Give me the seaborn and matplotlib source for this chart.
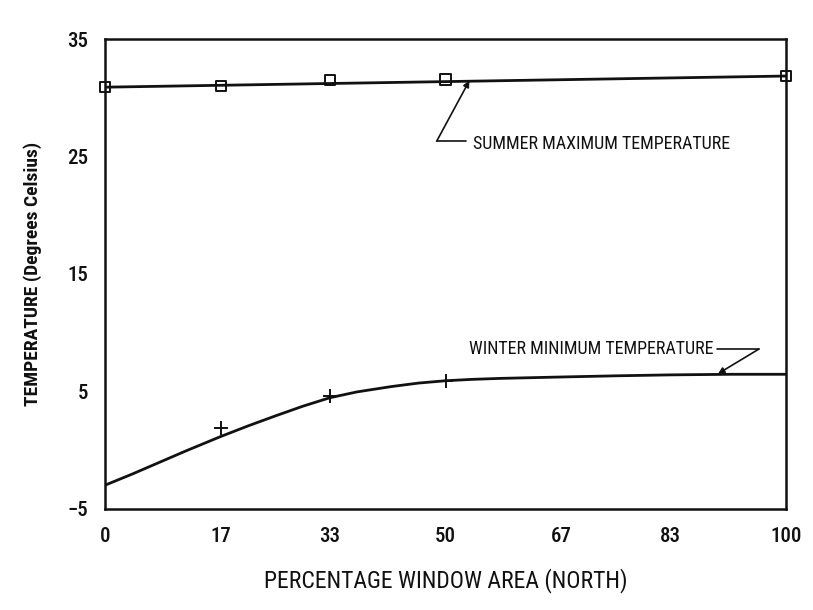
import matplotlib
matplotlib.use("Agg")
import matplotlib.pyplot as plt
import matplotlib.font_manager as fm
import seaborn as sns
import pandas as pd

# ---- data ----
x_ticks = [0, 17, 33, 50, 67, 83, 100]
y_major = [-5, 5, 15, 25, 35]
y_minor = [0, 10, 20, 30]

summer_x = [0, 17, 33, 50, 100]
summer_y = [30.9, 31.0, 31.5, 31.55, 31.85]
summer_fit_x = [0, 100]
summer_fit_y = [30.9, 31.85]

winter_x = [17, 33, 50]
winter_y = [1.9, 4.6, 5.9]
winter_fit_x = [0, 4, 8, 12, 17, 21, 25, 29, 33, 37, 42, 46, 50, 54, 58, 67, 75, 83, 92, 100]
winter_fit_y = [-3.0, -2.05, -1.05, -0.05, 1.15, 2.05, 2.9, 3.72, 4.45, 4.95, 5.4, 5.7, 5.9, 6.02,
                6.1, 6.22, 6.32, 6.4, 6.45, 6.45]

summer_label = "SUMMER MAXIMUM TEMPERATURE"
winter_label = "WINTER MINIMUM TEMPERATURE"
x_label = "PERCENTAGE WINDOW AREA (NORTH)"
y_label = "TEMPERATURE (Degrees Celsius)"

sns.set_theme(style="white")
names = {f.name for f in fm.fontManager.ttflist}
fam = "DejaVu Sans"
for cand in ["Roboto Condensed", "DejaVu Sans Condensed", "Liberation Sans Narrow"]:
    if cand in names:
        fam = cand
        break
plt.rcParams["font.family"] = [fam]

fig = plt.figure(figsize=(8.13, 6.10), dpi=100)
ax = fig.add_axes([0.129, 0.166, 0.838, 0.770])

sfit = pd.DataFrame({"x": summer_fit_x, "y": summer_fit_y})
wfit = pd.DataFrame({"x": winter_fit_x, "y": winter_fit_y})
spts = pd.DataFrame({"x": summer_x, "y": summer_y})
wpts = pd.DataFrame({"x": winter_x, "y": winter_y})

sns.lineplot(data=sfit, x="x", y="y", ax=ax, color="#111111", lw=2.0)
sns.lineplot(data=wfit, x="x", y="y", ax=ax, color="#111111", lw=2.0)
sns.scatterplot(data=spts, x="x", y="y", ax=ax, marker="s", s=55,
                facecolor="none", edgecolor="#111111", linewidth=1.4, zorder=5, clip_on=False)
sns.scatterplot(data=wpts, x="x", y="y", ax=ax, marker="+", s=110,
                color="#111111", linewidth=1.4, zorder=5)

ax.set_xlim(0, 100)
ax.set_ylim(-5, 35)
ax.set_xticks(x_ticks)
ax.set_xticklabels([str(v) for v in x_ticks])
ax.set_yticks(y_major)
ax.set_yticklabels([f"\u2212{abs(v)}" if v < 0 else str(v) for v in y_major])
ax.set_yticks(y_minor, minor=True)
ax.tick_params(axis="both", which="both", direction="in", color="#111111",
               width=1.4, labelsize=15, labelcolor="#111111")
ax.tick_params(axis="x", which="major", length=7, pad=13)
ax.tick_params(axis="y", which="major", length=7, pad=12)
ax.tick_params(axis="y", which="minor", length=7)
for lbl in ax.get_xticklabels() + ax.get_yticklabels():
    lbl.set_fontweight("medium")
for sp in ax.spines.values():
    sp.set_visible(True)
    sp.set_color("#111111")
    sp.set_linewidth(1.8)

ax.set_xlabel(x_label, fontsize=17, color="#111111", labelpad=16)
ax.set_ylabel(y_label, fontsize=14, color="#111111", labelpad=18, fontweight="bold")

# annotations
s_tip = (53.5, 31.45)
s_elbow = (48.7, 26.3)
s_text = (54.0, 26.1)
ax.plot([s_elbow[0], s_text[0] - 1.0], [s_elbow[1], s_elbow[1]], color="#111111", lw=1.2)
ax.annotate("", xy=s_tip, xytext=s_elbow,
            arrowprops=dict(arrowstyle="-|>", color="#111111", lw=1.2, mutation_scale=9,
                            shrinkA=0, shrinkB=0))
ax.text(s_text[0], s_text[1], summer_label, fontsize=13, color="#111111", va="center", ha="left")

w_tip = (90.0, 6.5)
w_elbow = (96.0, 8.6)
w_text = (89.3, 8.6)
ax.plot([w_text[0] + 0.6, w_elbow[0]], [w_elbow[1], w_elbow[1]], color="#111111", lw=1.2)
ax.annotate("", xy=w_tip, xytext=w_elbow,
            arrowprops=dict(arrowstyle="-|>", color="#111111", lw=1.2, mutation_scale=9,
                            shrinkA=0, shrinkB=0))
ax.text(w_text[0], w_text[1], winter_label, fontsize=13, color="#111111", va="center", ha="right")

fig.savefig("out.png", dpi=100)
